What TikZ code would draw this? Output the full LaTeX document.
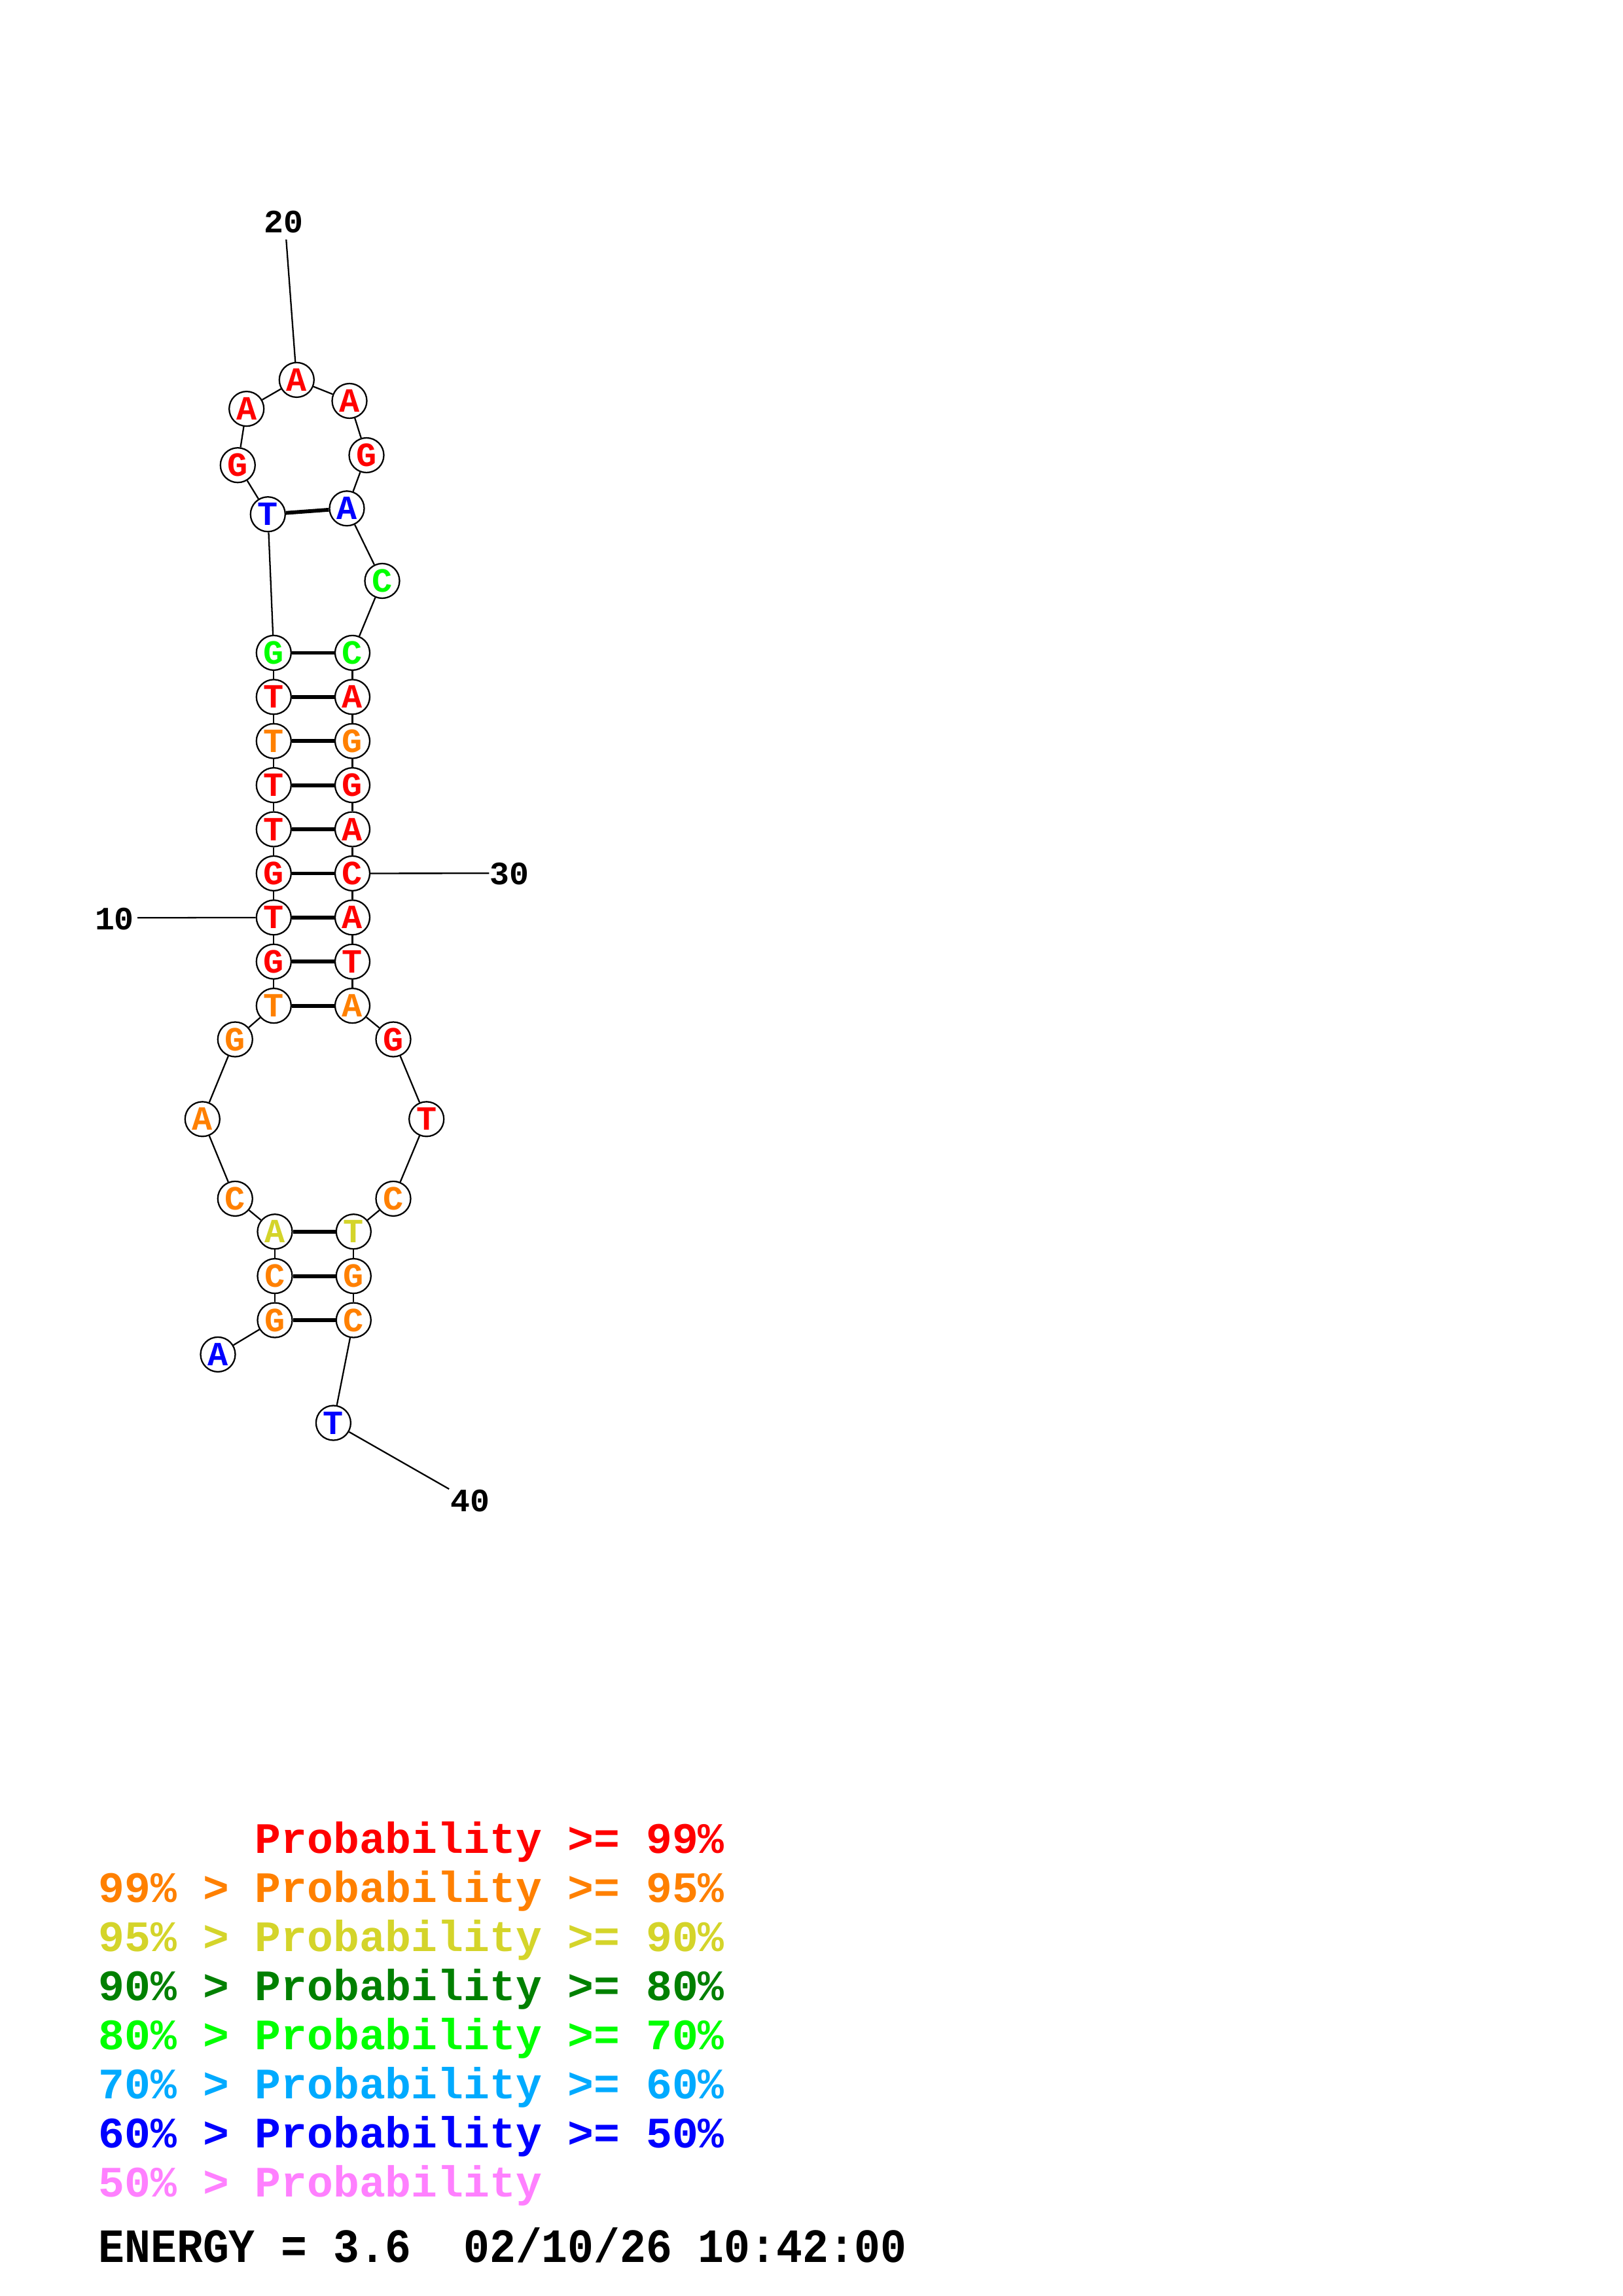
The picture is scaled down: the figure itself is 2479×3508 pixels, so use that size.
\documentclass[tikz,border=0pt]{standalone}
\usepackage{fontspec}
\newfontfamily\courbf{Liberation Mono}

\definecolor{pr99}{RGB}{255,0,0}
\definecolor{pr95}{RGB}{255,128,0}
\definecolor{pr90}{RGB}{212,212,42}
\definecolor{pr80}{RGB}{0,128,0}
\definecolor{pr70}{RGB}{0,255,0}
\definecolor{pr60}{RGB}{0,170,255}
\definecolor{pr50}{RGB}{0,0,255}
\definecolor{prlow}{RGB}{255,128,255}

\tikzset{
  nt/.style={circle, draw, fill=white, line width=0.55pt, minimum size=4.49mm, inner sep=0pt,
    font=\courbf\bfseries\fontsize{12.5}{12.5}\selectfont},
  backbone/.style={line width=0.55pt},
  pair/.style={line width=1.4pt},
  numlabel/.style={anchor=base, inner sep=0pt, font=\courbf\bfseries\fontsize{12}{12}\selectfont},
  legend/.style={anchor=base west, inner sep=0pt, font=\courbf\bfseries\fontsize{16}{18}\selectfont}
}

\begin{document}
\begin{tikzpicture}[x=0.08471mm, y=-0.08471mm]
    \useasboundingbox (0,0) rectangle (2479,3508);

    \foreach \i/\px/\py/\b/\c in {
        1/333/2069.4/A/pr50, 2/420/2017/G/pr95, 3/420/1949.6/C/pr95, 4/420/1881.7/A/pr90,
        5/359.3/1831.4/C/pr95, 6/309.3/1709.8/A/pr95, 7/359.3/1588/G/pr95,
        8/418.3/1536.6/T/pr95, 9/418.3/1469.2/G/pr99, 10/418.3/1401.8/T/pr99,
        11/418.3/1334.4/G/pr99, 12/418.3/1267/T/pr99, 13/418.3/1199.6/T/pr99,
        14/418.3/1132.2/T/pr95, 15/418.3/1064.8/T/pr99, 16/418.3/997.4/G/pr70,
        17/409.3/785.7/T/pr50, 18/363.3/710.7/G/pr99, 19/376.7/624.6/A/pr99,
        20/453.3/580.4/A/pr99, 21/534/612.5/A/pr99, 22/560/695.5/G/pr99,
        23/530/776.8/A/pr50, 24/584/887.5/C/pr70,
        25/538.5/997.4/C/pr70, 26/538.5/1064.8/A/pr99, 27/538.5/1132.2/G/pr95,
        28/538.5/1199.6/G/pr99, 29/538.5/1267/A/pr99, 30/538.5/1334.4/C/pr99,
        31/538.5/1401.8/A/pr99, 32/538.5/1469.2/T/pr99, 33/538.5/1536.6/A/pr95,
        34/601/1588/G/pr99, 35/651.7/1709.8/T/pr99, 36/601/1831.4/C/pr95,
        37/540.3/1881.7/T/pr90, 38/540.3/1949.6/G/pr95, 39/540.3/2017/C/pr95,
        40/509.4/2174/T/pr50}{
        \node[nt, text=\c] (n\i) at (\px,\py) {\b};
    }

    % backbone
    \foreach \i [evaluate=\i as \j using int(\i+1)] in {1,...,39}{
        \draw[backbone] (n\i) -- (n\j);
    }

    % base pairs
    \draw[pair] (n2) -- (n39);
    \draw[pair] (n3) -- (n38);
    \draw[pair] (n4) -- (n37);
    \draw[pair] (n8) -- (n33);
    \draw[pair] (n9) -- (n32);
    \draw[pair] (n10) -- (n31);
    \draw[pair] (n11) -- (n30);
    \draw[pair] (n12) -- (n29);
    \draw[pair] (n13) -- (n28);
    \draw[pair] (n14) -- (n27);
    \draw[pair] (n15) -- (n26);
    \draw[pair] (n16) -- (n25);
    \draw[pair] (n17) -- (n23);

    % position ticks
    \coordinate (t10) at (210,1402.3);
    \coordinate (t20) at (437.3,366);
    \coordinate (t30) at (747.3,1334.3);
    \coordinate (t40) at (686.2,2275);
    \draw[backbone] (n10) -- (t10);
    \draw[backbone] (n20) -- (t20);
    \draw[backbone] (n30) -- (t30);
    \draw[backbone] (n40) -- (t40);
    \node[numlabel] (l10) at (175,1420) {10};
    \node[numlabel] (l20) at (433.3,355.8) {20};
    \node[numlabel] (l30) at (778.3,1351.7) {30};
    \node[numlabel] (l40) at (718.3,2309.5) {40};

    % legend
    \node[legend, text=pr99] (g1) at (150,2831.7) {\phantom{99\% > }Probability >= 99\%};
    \node[legend, text=pr95] (g2) at (150,2906.7) {99\% > Probability >= 95\%};
    \node[legend, text=pr90] (g3) at (150,2981.7) {95\% > Probability >= 90\%};
    \node[legend, text=pr80] (g4) at (150,3056.7) {90\% > Probability >= 80\%};
    \node[legend, text=pr70] (g5) at (150,3131.7) {80\% > Probability >= 70\%};
    \node[legend, text=pr60] (g6) at (150,3206.7) {70\% > Probability >= 60\%};
    \node[legend, text=pr50] (g7) at (150,3281.7) {60\% > Probability >= 50\%};
    \node[legend, text=prlow] (g8) at (150,3356.7) {50\% > Probability};
    \node[legend] (energy) at (150,3456.5) {\scalebox{1}[1.1]{ENERGY = 3.6\ \ 02/10/26 10:42:00}};
\end{tikzpicture}
\end{document}
